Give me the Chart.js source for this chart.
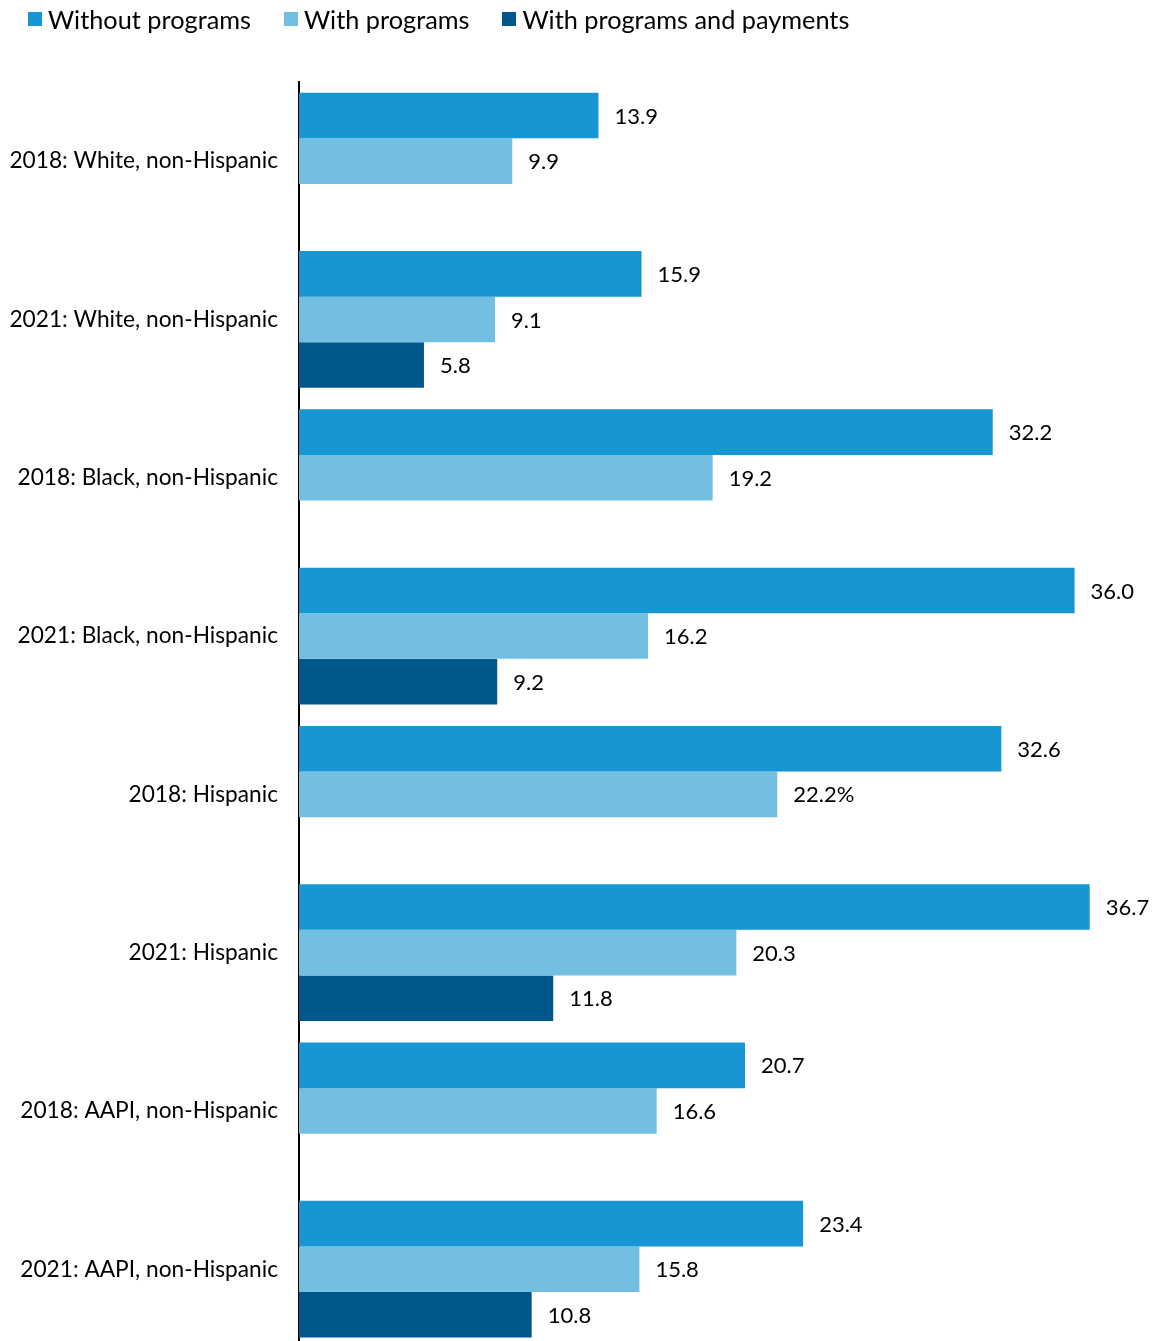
<!DOCTYPE html>
<html>
<head>
<meta charset="utf-8">
<script src="https://cdn.jsdelivr.net/npm/chart.js@4.4.1/dist/chart.umd.min.js"></script>
<style>
  html, body { margin: 0; padding: 0; background: #fff; overflow: hidden; }
  #wrap { position: relative; width: 1155px; height: 1341px; overflow: hidden; }
  #legend { position: absolute; left: 28px; top: 4px; display: flex; font-family: Lato, sans-serif; font-size: 25.3px; color: #000; }
  .item { display: flex; align-items: center; margin-right: 33px; }
  .box { width: 14px; height: 14px; margin-right: 6px; }
  canvas { display: block; }
</style>
</head>
<body>
<div id="wrap">
  <div id="legend"></div>
  <canvas id="c" width="1155" height="1383"></canvas>
</div>
<script>
const categories = [
  '2018: White, non-Hispanic',
  '2021: White, non-Hispanic',
  '2018: Black, non-Hispanic',
  '2021: Black, non-Hispanic',
  '2018: Hispanic',
  '2021: Hispanic',
  '2018: AAPI, non-Hispanic',
  '2021: AAPI, non-Hispanic'
];
const seriesNames = ['Without programs', 'With programs', 'With programs and payments'];
const withoutPrograms = [13.9, 15.9, 32.2, 36.0, 32.6, 36.7, 20.7, 23.4];
const withPrograms = [9.9, 9.1, 19.2, 16.2, 22.2, 20.3, 16.6, 15.8];
const withPayments = [null, 5.8, null, 9.2, null, 11.8, null, 10.8];
// only one label in the source carries a percent sign
const percentLabel = { dataset: 1, index: 4 };

const colors = ['#1696d2', '#73bfe2', '#00578b'];
const FONT = 'Lato, sans-serif';

// html legend
const legendEl = document.getElementById('legend');
seriesNames.forEach((name, i) => {
  const it = document.createElement('div');
  it.className = 'item';
  it.innerHTML = '<span class="box" style="background:' + colors[i] + '"></span><span>' + name + '</span>';
  legendEl.appendChild(it);
});

const valueLabels = {
  id: 'valueLabels',
  afterDatasetsDraw(chart) {
    const ctx = chart.ctx;
    ctx.save();
    ctx.font = '22px ' + FONT;
    ctx.fillStyle = '#000';
    ctx.textAlign = 'left';
    ctx.textBaseline = 'middle';
    chart.data.datasets.forEach((ds, di) => {
      const meta = chart.getDatasetMeta(di);
      meta.data.forEach((bar, i) => {
        const v = ds.data[i];
        if (v === null || v === undefined) return;
        let txt = v.toFixed(1);
        if (di === percentLabel.dataset && i === percentLabel.index) txt += '%';
        ctx.fillText(txt, bar.x + 16, bar.y + 1);
      });
    });
    ctx.restore();
  }
};

new Chart(document.getElementById('c').getContext('2d'), {
  type: 'bar',
  data: {
    labels: categories,
    datasets: [
      { label: seriesNames[0], data: withoutPrograms, backgroundColor: colors[0] },
      { label: seriesNames[1], data: withPrograms, backgroundColor: colors[1] },
      { label: seriesNames[2], data: withPayments, backgroundColor: colors[2] }
    ]
  },
  options: {
    indexAxis: 'y',
    responsive: false,
    animation: false,
    layout: { padding: { top: 82, right: 5, bottom: 0, left: 0 } },
    datasets: {
      bar: { categoryPercentage: 0.864, barPercentage: 1.0, borderWidth: 0 }
    },
    plugins: {
      legend: { display: false },
      tooltip: { enabled: false }
    },
    scales: {
      x: {
        display: false,
        min: 0,
        max: 39.5
      },
      y: {
        afterFit(scale) { scale.width = 299; },
        grid: { display: false, drawTicks: false },
        border: { display: true, color: '#000', width: 2 },
        ticks: {
          padding: 21,
          color: '#000',
          font: { family: FONT, size: 22.7 }
        }
      }
    }
  },
  plugins: [valueLabels]
});
</script>
</body>
</html>
